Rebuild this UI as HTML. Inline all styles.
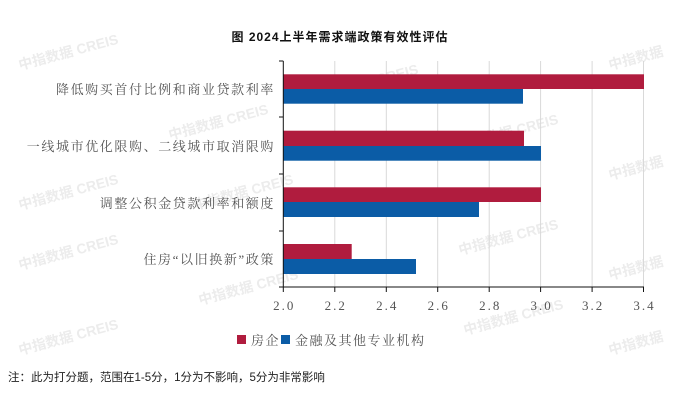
<!DOCTYPE html>
<html><head><meta charset="utf-8"><style>
body{margin:0;background:#fff;}
svg text{font-family:"Liberation Serif","Noto Serif CJK SC",serif;}
svg text.wm{font-family:"Liberation Sans","Noto Sans CJK SC",sans-serif;}
svg text.sans{font-family:"Liberation Sans","Noto Sans CJK SC",sans-serif;}
</style></head><body>
<svg width="681" height="402" xmlns="http://www.w3.org/2000/svg">
<rect width="681" height="402" fill="#fff"/>
<g font-size="14" font-weight="bold" fill="#ececec">
<text class="wm" transform="translate(20,70) rotate(-15)">中指数据 CREIS</text>
<text class="wm" transform="translate(170,140) rotate(-15)">中指数据 CREIS</text>
<text class="wm" transform="translate(320,100) rotate(-15)">中指数据 CREIS</text>
<text class="wm" transform="translate(465,100) rotate(-15)">中指数据</text>
<text class="wm" transform="translate(610,70) rotate(-15)">中指数据</text>
<text class="wm" transform="translate(460,150) rotate(-15)">中指数据 CREIS</text>
<text class="wm" transform="translate(20,210) rotate(-15)">中指数据 CREIS</text>
<text class="wm" transform="translate(195,210) rotate(-15)">中指数据 CREIS</text>
<text class="wm" transform="translate(610,180) rotate(-15)">中指数据</text>
<text class="wm" transform="translate(20,270) rotate(-15)">中指数据 CREIS</text>
<text class="wm" transform="translate(200,305) rotate(-15)">中指数据 CREIS</text>
<text class="wm" transform="translate(460,255) rotate(-15)">中指数据 CREIS</text>
<text class="wm" transform="translate(610,280) rotate(-15)">中指数据</text>
<text class="wm" transform="translate(20,355) rotate(-15)">中指数据 CREIS</text>
<text class="wm" transform="translate(465,335) rotate(-15)">中指数据 CREIS</text>
<text class="wm" transform="translate(610,355) rotate(-15)">中指数据</text>
</g>
<text class="sans" x="340" y="41" text-anchor="middle" font-size="12" font-weight="bold" fill="#111" style="letter-spacing:1px">图 2024上半年需求端政策有效性评估</text>
<g stroke="#d9d9d9" stroke-width="1">
<line x1="334.8" y1="61" x2="334.8" y2="287"/><line x1="386.3" y1="61" x2="386.3" y2="287"/>
<line x1="437.7" y1="61" x2="437.7" y2="287"/><line x1="489.2" y1="61" x2="489.2" y2="287"/>
<line x1="540.6" y1="61" x2="540.6" y2="287"/><line x1="592.1" y1="61" x2="592.1" y2="287"/>
<line x1="643.5" y1="61" x2="643.5" y2="287"/>
</g>
<g fill="#b01c3e">
<rect x="283.3" y="74.3" width="360.7" height="14.7"/>
<rect x="283.3" y="130.7" width="240.7" height="15.3"/>
<rect x="283.3" y="187.3" width="257.7" height="14.7"/>
<rect x="283.3" y="244" width="68.4" height="15"/>
</g>
<g fill="#0b5ca6">
<rect x="283.3" y="89" width="239.7" height="14.7"/>
<rect x="283.3" y="146" width="257.7" height="14.7"/>
<rect x="283.3" y="202" width="195.7" height="15"/>
<rect x="283.3" y="259" width="132.7" height="15"/>
</g>
<g stroke="#111" stroke-width="1">
<line x1="283.3" y1="61" x2="283.3" y2="287"/>
<line x1="283.3" y1="287" x2="644" y2="287"/>
<line x1="279" y1="61" x2="283.3" y2="61"/><line x1="279" y1="117" x2="283.3" y2="117"/>
<line x1="279" y1="174" x2="283.3" y2="174"/><line x1="279" y1="231" x2="283.3" y2="231"/>
<line x1="279" y1="287" x2="283.3" y2="287"/>
<line x1="283.3" y1="287" x2="283.3" y2="292"/><line x1="334.8" y1="287" x2="334.8" y2="292"/>
<line x1="386.3" y1="287" x2="386.3" y2="292"/><line x1="437.7" y1="287" x2="437.7" y2="292"/>
<line x1="489.2" y1="287" x2="489.2" y2="292"/><line x1="540.6" y1="287" x2="540.6" y2="292"/>
<line x1="592.1" y1="287" x2="592.1" y2="292"/><line x1="643.5" y1="287" x2="643.5" y2="292"/>
</g>
<g font-size="13" fill="#555" text-anchor="middle" style="letter-spacing:2px">
<text x="284.3" y="310">2.0</text><text x="335.8" y="310">2.2</text><text x="387.3" y="310">2.4</text>
<text x="438.7" y="310">2.6</text><text x="490.2" y="310">2.8</text><text x="541.6" y="310">3.0</text>
<text x="593.1" y="310">3.2</text><text x="644.5" y="310">3.4</text>
</g>
<g font-size="13" fill="#555" text-anchor="end" style="letter-spacing:1.6px">
<text x="275" y="94">降低购买首付比例和商业贷款利率</text>
<text x="275" y="151">一线城市优化限购、二线城市取消限购</text>
<text x="275" y="208">调整公积金贷款利率和额度</text>
<text x="275" y="264">住房“以旧换新”政策</text>
</g>
<rect x="237" y="335" width="9" height="9" fill="#b01c3e"/>
<text x="251" y="345" font-size="13" fill="#555" style="letter-spacing:1.5px">房企</text>
<rect x="281" y="335" width="9" height="9" fill="#0b5ca6"/>
<text x="295" y="345" font-size="13" fill="#555" style="letter-spacing:1.5px">金融及其他专业机构</text>
<text class="sans" x="8" y="381" font-size="11.5" fill="#222">注：此为打分题，范围在1-5分，1分为不影响，5分为非常影响</text>
</svg>
</body></html>
